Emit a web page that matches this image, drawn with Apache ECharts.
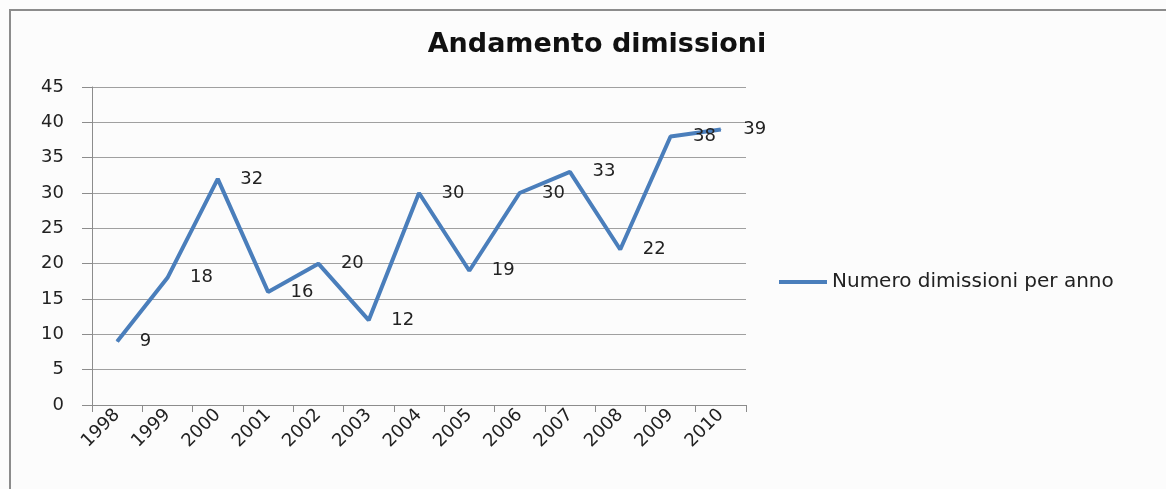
<!DOCTYPE html>
<html>
<head>
<meta charset="utf-8">
<script src="https://cdn.jsdelivr.net/npm/echarts@6/dist/echarts.min.js"></script>
<style>
html, body { margin: 0; padding: 0; background: #fcfcfc; }
#wrap { position: relative; width: 1166px; height: 489px; }
#chart { position: absolute; left: 0; top: 0; width: 1166px; height: 489px; }
#frame { position: absolute; left: 9px; top: 9px; right: 0; bottom: 0;
         border-left: 2px solid #8c8c8c; border-top: 2px solid #8c8c8c; pointer-events: none; }
</style>
</head>
<body>
<div id="wrap">
  <div id="chart"></div>
  <div id="frame"></div>
</div>
<script>
// dati
var anni = ['1998', '1999', '2000', '2001', '2002', '2003', '2004', '2005', '2006', '2007', '2008', '2009', '2010']
var dimissioni = [9, 18, 32, 16, 20, 12, 30, 19, 30, 33, 22, 38, 39]
var titolo = 'Andamento dimissioni'
var nomeSerie = 'Numero dimissioni per anno'

var fontTesto = '"DejaVu Sans", "Open Sans", sans-serif'
var myChart = echarts.init(document.getElementById('chart'))

var option = {
    backgroundColor: 'transparent',
    color: ['#4a7ebb'],
    title: {
        text: titolo,
        left: 592,
        top: 26,
        textAlign: 'center',
        textStyle: {
            fontFamily: fontTesto,
            fontSize: 27,
            fontWeight: 'bold',
            color: '#111'
        }
    },
    legend: {
        data: [nomeSerie],
        left: 774,
        top: 267,
        icon: 'rect',
        itemWidth: 48,
        itemHeight: 4,
        textStyle: {
            fontFamily: fontTesto,
            fontSize: 20,
            color: '#222'
        }
    },
    grid: {
        left: 92,
        right: 1166 - 746,
        top: 87,
        bottom: 489 - 405,
        containLabel: false
    },
    xAxis: {
        type: 'category',
        data: anni,
        boundaryGap: true,
        axisLine: { show: true, lineStyle: { color: '#8c8c8c', width: 1 } },
        axisTick: { show: true, length: 7, alignWithLabel: false, lineStyle: { color: '#8c8c8c' } },
        axisLabel: {
            interval: 0,
            rotate: 45,
            margin: 7,
            fontFamily: fontTesto,
            fontSize: 18,
            color: '#222'
        },
        splitLine: { show: false }
    },
    yAxis: {
        type: 'value',
        min: 0,
        max: 45,
        interval: 5,
        axisLine: { show: true, lineStyle: { color: '#8c8c8c', width: 1 } },
        axisTick: { show: true, length: 10, lineStyle: { color: '#8c8c8c' } },
        axisLabel: {
            margin: 28,
            fontFamily: fontTesto,
            fontSize: 18,
            color: '#222'
        },
        splitLine: { show: true, lineStyle: { color: '#a0a0a0', width: 1 } }
    },
    series: [
        {
            name: nomeSerie,
            type: 'line',
            data: dimissioni,
            symbol: 'circle',
            symbolSize: 1,
            showSymbol: true,
            lineStyle: { color: '#4a7ebb', width: 4 },
            itemStyle: { color: '#4a7ebb' },
            label: {
                show: true,
                position: 'right',
                distance: 22,
                fontFamily: fontTesto,
                fontSize: 18,
                color: '#222'
            },
            animation: false
        }
    ]
}

myChart.setOption(option)
window.addEventListener('resize', function () {
    myChart.resize()
})
</script>
</body>
</html>
